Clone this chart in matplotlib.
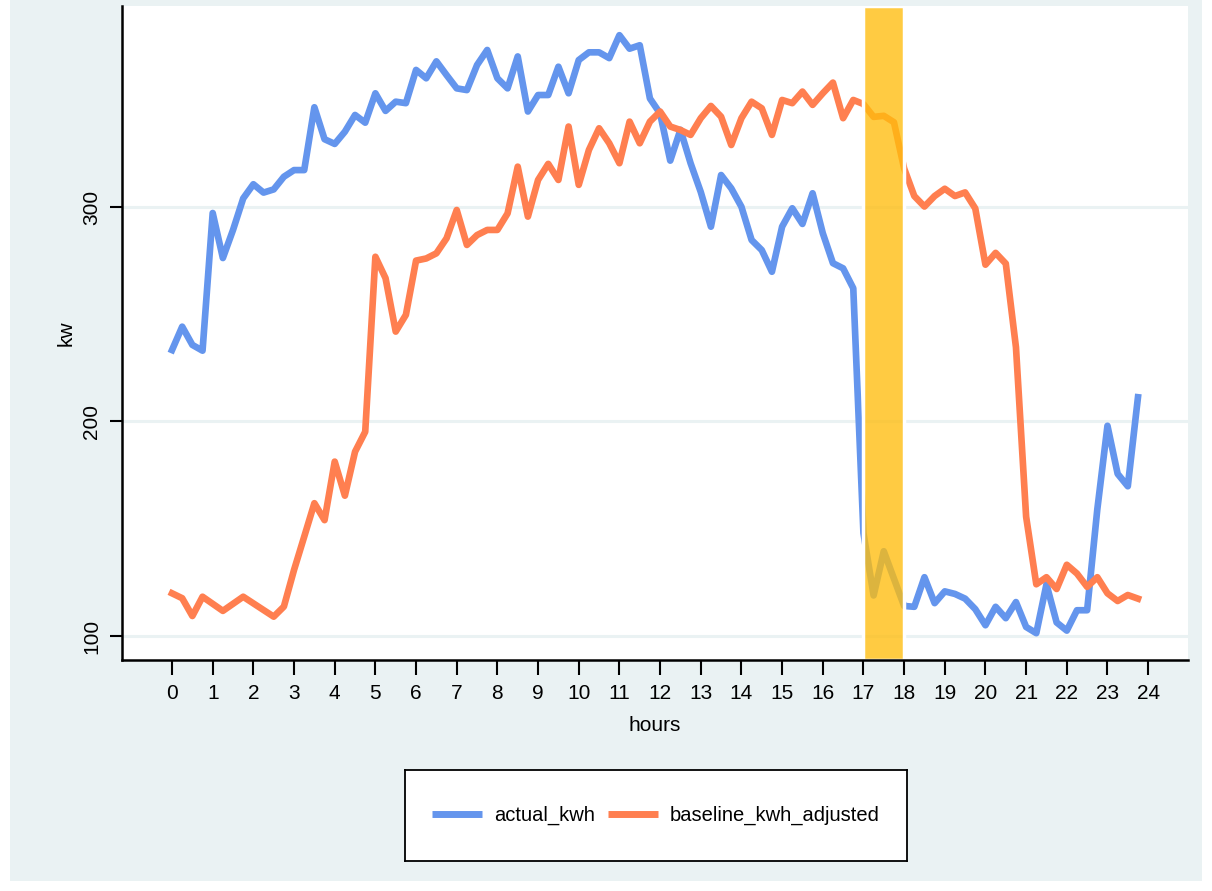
import numpy as np
import matplotlib
matplotlib.use("Agg")
import matplotlib.pyplot as plt
from matplotlib.lines import Line2D
from matplotlib.patches import Rectangle

# ================= DATA =================
# 15-minute readings over one day
hours = np.arange(0, 24, 0.25)

actual_kwh = [
    233.3, 244.2, 235.7, 233.0, 297.2, 276.2, 289.3, 304.0, 310.6, 306.7, 308.2, 314.1,
    317.2, 317.2, 346.5, 331.6, 329.4, 335.1, 342.9, 339.3, 353.0, 344.8, 349.1, 348.4,
    363.9, 360.0, 367.9, 361.5, 355.3, 354.5, 366.2, 373.2, 360.0, 355.3, 370.2, 344.5,
    352.2, 352.2, 365.4, 353.0, 368.5, 372.1, 372.1, 369.4, 380.1, 373.8, 375.4, 350.6,
    343.6, 321.6, 336.0, 320.4, 307.0, 290.8, 314.9, 308.7, 300.1, 284.6, 279.9, 269.8,
    290.8, 299.4, 292.1, 306.4, 287.8, 273.8, 271.4, 262.1, 148.0, 118.9, 139.5, 126.7,
    114.0, 113.6, 127.4, 115.3, 120.8, 119.6, 117.4, 112.5, 105.0, 113.6, 108.3, 115.8,
    104.2, 101.3, 124.1, 106.3, 102.5, 112.0, 112.0, 159.0, 198.0, 175.6, 169.8, 211.3,
]

baseline_kwh_adjusted = [
    119.9, 117.6, 109.3, 118.3, 115.0, 111.7, 115.0, 118.3, 115.2, 112.1, 109.0, 113.7,
    130.8, 146.3, 161.9, 154.0, 181.3, 165.4, 185.9, 195.2, 276.8, 266.8, 241.9, 249.7,
    275.0, 276.0, 278.4, 285.4, 298.6, 282.3, 286.9, 289.3, 289.3, 297.0, 318.8, 295.5,
    312.6, 320.1, 312.6, 337.5, 310.3, 326.6, 336.7, 329.7, 320.4, 339.8, 329.7, 339.8,
    344.5, 337.5, 335.9, 333.6, 341.4, 347.1, 342.1, 328.9, 341.4, 349.1, 346.0, 333.6,
    349.9, 348.4, 353.8, 347.6, 353.0, 358.0, 341.4, 349.9, 348.0, 342.0, 342.5, 339.5,
    318.0, 305.1, 300.2, 305.1, 308.5, 305.1, 306.8, 299.3, 273.1, 278.6, 273.6, 234.6,
    155.6, 124.1, 127.4, 121.9, 133.2, 129.1, 122.9, 127.4, 119.9, 116.3, 119.1, 117.4,
]

event_window = (17, 18)
x_ticks = list(range(0, 25))
y_ticks = [100, 200, 300]
labels = ["actual_kwh", "baseline_kwh_adjusted"]
# ========================================

BG = "#EAF2F3"
BLUE = "#6495ED"
CORAL = "#FF7F50"
FS = 15

plt.rcParams["font.family"] = ["Liberation Sans", "DejaVu Sans"]

W, H = 1212, 891
fig = plt.figure(figsize=(W / 100, H / 100), dpi=100, facecolor="white")
fig.patches.append(Rectangle((10 / W, 10 / H), (W - 20) / W, (H - 10) / H,
                             transform=fig.transFigure, facecolor=BG,
                             edgecolor="none", zorder=-1))

ax = fig.add_axes([122 / W, 1 - 660 / H, (1188 - 122) / W, (660 - 6) / H])
ax.set_facecolor("white")

ax.plot(hours, actual_kwh, color=BLUE, lw=4.8, solid_joinstyle="round", zorder=2)
ax.plot(hours, baseline_kwh_adjusted, color=CORAL, lw=4.8, solid_joinstyle="round", zorder=2.1)

# shaded event hour, drawn over the lines
ax.axvspan(*event_window, facecolor=(1.0, 0.74, 0.05, 0.78), edgecolor="white",
           lw=2.5, zorder=3)

ax.set_xlim(-1.23, 24.98)
ax.set_ylim(88.8, 393.7)
ax.set_xticks(x_ticks)
ax.set_xticklabels([str(t) for t in x_ticks])
ax.set_yticks(y_ticks)
ax.grid(axis="y", color=BG, lw=2.2)
ax.set_axisbelow(True)

for side in ["top", "right"]:
    ax.spines[side].set_visible(False)
for side in ["left", "bottom"]:
    ax.spines[side].set_linewidth(1.8)
    ax.spines[side].set_zorder(10)

ax.tick_params(axis="x", length=11, width=1.5, pad=6.5, labelsize=FS)
ax.tick_params(axis="y", length=9, width=1.5, pad=6, labelsize=FS, labelrotation=90)
for lbl in ax.get_yticklabels():
    lbl.set_va("center")

ax.set_xlabel("hours", fontsize=FS, labelpad=9)
ax.set_ylabel("kw", fontsize=FS, labelpad=5)

# legend box below the plot
lax = fig.add_axes([405 / W, 1 - 861 / H, 502 / W, 91 / H])
lax.set_facecolor("white")
lax.set_xticks([])
lax.set_yticks([])
for s in lax.spines.values():
    s.set_linewidth(1.3)
    s.set_color("black")
handles = [Line2D([], [], color=BLUE, lw=5, solid_capstyle="butt"),
           Line2D([], [], color=CORAL, lw=5, solid_capstyle="butt")]
lax.legend(handles, labels, loc="center", ncol=2, frameon=False, fontsize=14.5,
           handlelength=2.5, handletextpad=0.6, columnspacing=0.6)

fig.savefig("out.png", dpi=100, facecolor=fig.get_facecolor())
